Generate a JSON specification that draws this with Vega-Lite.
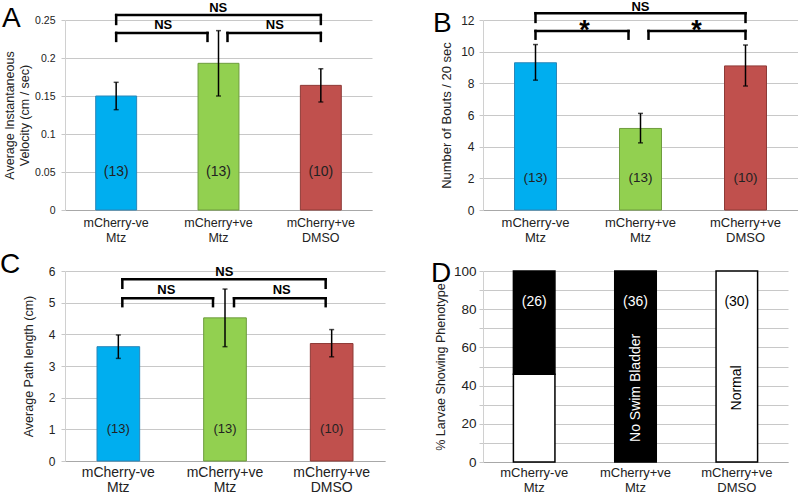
{
"$schema":"https://vega.github.io/schema/vega-lite/v6.json",
"padding":0,
"background":"white",
"config":{
 "font":"Liberation Sans",
 "view":{"stroke":null},
 "title":{"anchor":"start","frame":"group","fontSize":28,"fontWeight":"normal","color":"#000","font":"Liberation Sans"},
 "axis":{"labelColor":"#222","titleColor":"#222","titleFontWeight":"normal","labelFont":"Liberation Sans","titleFont":"Liberation Sans","labelOverlap":false},
 "axisX":{"labelAngle":0,"grid":false,"ticks":false,"domainColor":"#a8a8a8","domainWidth":1,"labelPadding":6,"labelBaseline":"top","labelLineHeight":15},
 "axisY":{"grid":true,"gridColor":"#c8c8c8","domainColor":"#d0d0d0","ticks":true,"tickColor":"#c8c8c8","tickSize":4,"labelPadding":5,"labelOverlap":false,"tickCount":50},
 "text":{"font":"Liberation Sans"}
},
"datasets":{
 "velocity":[
  {"group":"mCherry-ve Mtz","mean":0.150,"lo":0.132,"hi":0.168,"n":"(13)"},
  {"group":"mCherry+ve Mtz","mean":0.193,"lo":0.150,"hi":0.236,"n":"(13)"},
  {"group":"mCherry+ve DMSO","mean":0.164,"lo":0.142,"hi":0.186,"n":"(10)"}
 ],
 "bouts":[
  {"group":"mCherry-ve Mtz","mean":9.3,"lo":8.2,"hi":10.45,"n":"(13)"},
  {"group":"mCherry+ve Mtz","mean":5.15,"lo":4.24,"hi":6.1,"n":"(13)"},
  {"group":"mCherry+ve DMSO","mean":9.1,"lo":7.83,"hi":10.42,"n":"(10)"}
 ],
 "path":[
  {"group":"mCherry-ve Mtz","mean":3.61,"lo":3.24,"hi":3.98,"n":"(13)"},
  {"group":"mCherry+ve Mtz","mean":4.52,"lo":3.61,"hi":5.43,"n":"(13)"},
  {"group":"mCherry+ve DMSO","mean":3.71,"lo":3.29,"hi":4.15,"n":"(10)"}
 ],
 "brA":[
  {"kind":"outer","from":"mCherry-ve Mtz","to":"mCherry+ve DMSO","y":0.2565,"leg":0.2448,"ly":0.2657,"label":"NS"},
  {"kind":"L","from":"mCherry-ve Mtz","to":"mCherry+ve Mtz","y":0.233,"leg":0.2225,"ly":0.2435,"label":"NS"},
  {"kind":"R","from":"mCherry+ve Mtz","to":"mCherry+ve DMSO","y":0.233,"leg":0.2225,"ly":0.2435,"label":"NS"}
 ],
 "brB":[
  {"kind":"outer","from":"mCherry-ve Mtz","to":"mCherry+ve DMSO","y":12.43,"leg":11.88,"ly":12.85,"label":"NS"},
  {"kind":"L","from":"mCherry-ve Mtz","to":"mCherry+ve Mtz","y":11.31,"leg":10.82,"ly":11.3,"label":"*"},
  {"kind":"R","from":"mCherry+ve Mtz","to":"mCherry+ve DMSO","y":11.31,"leg":10.82,"ly":11.3,"label":"*"}
 ],
 "brC":[
  {"kind":"outer","from":"mCherry-ve Mtz","to":"mCherry+ve DMSO","y":5.74,"leg":5.47,"ly":5.97,"label":"NS"},
  {"kind":"L","from":"mCherry-ve Mtz","to":"mCherry+ve Mtz","y":5.14,"leg":4.89,"ly":5.4,"label":"NS"},
  {"kind":"R","from":"mCherry+ve Mtz","to":"mCherry+ve DMSO","y":5.14,"leg":4.89,"ly":5.4,"label":"NS"}
 ],
 "phen":[
  {"group":"mCherry-ve Mtz","phenotype":"Normal","pct":46},
  {"group":"mCherry-ve Mtz","phenotype":"No Swim Bladder","pct":54},
  {"group":"mCherry+ve Mtz","phenotype":"No Swim Bladder","pct":100},
  {"group":"mCherry+ve DMSO","phenotype":"Normal","pct":100}
 ],
 "phenN":[
  {"group":"mCherry-ve Mtz","n":"(26)"},
  {"group":"mCherry+ve Mtz","n":"(36)"},
  {"group":"mCherry+ve DMSO","n":"(30)"}
 ],
 "phenL":[
  {"group":"mCherry+ve Mtz","label":"No Swim Bladder"},
  {"group":"mCherry+ve DMSO","label":"Normal"}
 ]
},
"columns":2,
"spacing":{"row":61,"column":98},
"bounds":"flush",
"resolve":{"scale":{"x":"independent","y":"independent","fill":"independent","stroke":"independent","color":"independent"}},
"concat":[
{
 "title":{"text":"A","offset":-31,"dx":-63},
 "width":307,"height":190,
 "layer":[
  {"data":{"name":"velocity"},"mark":{"type":"bar","strokeWidth":1},
   "encoding":{
    "x":{"field":"group","type":"nominal","title":null,"scale":{"domain":["mCherry-ve Mtz","mCherry+ve Mtz","mCherry+ve DMSO"],"paddingInner":0.6,"paddingOuter":0.3},"axis":{"labelExpr":"split(datum.label, ' ')","labelFontSize":12.5}},
    "y":{"field":"mean","type":"quantitative","scale":{"domain":[0,0.25],"nice":false},"axis":{"title":["Average Instantaneous","Velocity (cm / sec)"],"titleFontSize":12.5,"titleLineHeight":15,"titlePadding":3,"labelFontSize":10.5,"labelPadding":6,"values":[0,0.05,0.1,0.15,0.2,0.25],"tickCount":50,"format":"~g"}},
    "fill":{"field":"group","type":"nominal","scale":{"domain":["mCherry-ve Mtz","mCherry+ve Mtz","mCherry+ve DMSO"],"range":["#00aeef","#92d050","#c0504d"]},"legend":null},
    "stroke":{"field":"group","type":"nominal","scale":{"domain":["mCherry-ve Mtz","mCherry+ve Mtz","mCherry+ve DMSO"],"range":["#2b86b8","#6e9c3e","#8e3a37"]},"legend":null}
   }},
  {"data":{"name":"velocity"},"mark":{"type":"rule","color":"black","strokeWidth":1.5},
   "encoding":{"x":{"field":"group","type":"nominal","title":null},"y":{"field":"lo","type":"quantitative","scale":{"domain":[0,0.25],"nice":false}},"y2":{"field":"hi"}}},
  {"data":{"name":"velocity"},"mark":{"type":"tick","color":"black","thickness":1.5,"size":5},
   "encoding":{"x":{"field":"group","type":"nominal","title":null},"y":{"field":"lo","type":"quantitative","scale":{"domain":[0,0.25],"nice":false}}}},
  {"data":{"name":"velocity"},"mark":{"type":"tick","color":"black","thickness":1.5,"size":5},
   "encoding":{"x":{"field":"group","type":"nominal","title":null},"y":{"field":"hi","type":"quantitative","scale":{"domain":[0,0.25],"nice":false}}}},
  {"data":{"name":"velocity"},"mark":{"type":"text","fontSize":14,"color":"#222","baseline":"middle"},
   "encoding":{"x":{"field":"group","type":"nominal","title":null},"y":{"datum":0.05,"type":"quantitative","scale":{"domain":[0,0.25],"nice":false}},"text":{"field":"n"}}},
  {"data":{"name":"brA"},"transform":[{"filter":"datum.kind === 'outer'"}],"mark":{"type":"rule","color":"black","strokeWidth":2.5,"strokeCap":"square"},
   "encoding":{"x":{"field":"from","type":"nominal","title":null},"x2":{"field":"to"},"y":{"field":"y","type":"quantitative","scale":{"domain":[0,0.25],"nice":false}}}},
  {"data":{"name":"brA"},"transform":[{"filter":"datum.kind === 'L'"}],"mark":{"type":"rule","color":"black","strokeWidth":2.5,"strokeCap":"square","x2Offset":-11},
   "encoding":{"x":{"field":"from","type":"nominal","title":null},"x2":{"field":"to"},"y":{"field":"y","type":"quantitative","scale":{"domain":[0,0.25],"nice":false}}}},
  {"data":{"name":"brA"},"transform":[{"filter":"datum.kind === 'R'"}],"mark":{"type":"rule","color":"black","strokeWidth":2.5,"strokeCap":"square","xOffset":9},
   "encoding":{"x":{"field":"from","type":"nominal","title":null},"x2":{"field":"to"},"y":{"field":"y","type":"quantitative","scale":{"domain":[0,0.25],"nice":false}}}},
  {"data":{"name":"brA"},"transform":[{"filter":"datum.kind !== 'R'"}],"mark":{"type":"rule","color":"black","strokeWidth":2.5,"strokeCap":"square"},
   "encoding":{"x":{"field":"from","type":"nominal","title":null},"y":{"field":"y","type":"quantitative","scale":{"domain":[0,0.25],"nice":false}},"y2":{"field":"leg"}}},
  {"data":{"name":"brA"},"transform":[{"filter":"datum.kind === 'R'"}],"mark":{"type":"rule","color":"black","strokeWidth":2.5,"strokeCap":"square","xOffset":9},
   "encoding":{"x":{"field":"from","type":"nominal","title":null},"y":{"field":"y","type":"quantitative","scale":{"domain":[0,0.25],"nice":false}},"y2":{"field":"leg"}}},
  {"data":{"name":"brA"},"transform":[{"filter":"datum.kind !== 'L'"}],"mark":{"type":"rule","color":"black","strokeWidth":2.5,"strokeCap":"square"},
   "encoding":{"x":{"field":"to","type":"nominal","title":null},"y":{"field":"y","type":"quantitative","scale":{"domain":[0,0.25],"nice":false}},"y2":{"field":"leg"}}},
  {"data":{"name":"brA"},"transform":[{"filter":"datum.kind === 'L'"}],"mark":{"type":"rule","color":"black","strokeWidth":2.5,"strokeCap":"square","xOffset":-11},
   "encoding":{"x":{"field":"to","type":"nominal","title":null},"y":{"field":"y","type":"quantitative","scale":{"domain":[0,0.25],"nice":false}},"y2":{"field":"leg"}}},
  {"data":{"name":"brA"},"transform":[{"filter":"datum.kind === 'outer'"}],"mark":{"type":"text","fontSize":13,"fontWeight":"bold","color":"#000","baseline":"middle","xOffset":102},
   "encoding":{"x":{"field":"from","type":"nominal","title":null},"y":{"field":"ly","type":"quantitative","scale":{"domain":[0,0.25],"nice":false}},"text":{"field":"label"}}},
  {"data":{"name":"brA"},"transform":[{"filter":"datum.kind === 'L'"}],"mark":{"type":"text","fontSize":13,"fontWeight":"bold","color":"#000","baseline":"middle","xOffset":47},
   "encoding":{"x":{"field":"from","type":"nominal","title":null},"y":{"field":"ly","type":"quantitative","scale":{"domain":[0,0.25],"nice":false}},"text":{"field":"label"}}},
  {"data":{"name":"brA"},"transform":[{"filter":"datum.kind === 'R'"}],"mark":{"type":"text","fontSize":13,"fontWeight":"bold","color":"#000","baseline":"middle","xOffset":-46},
   "encoding":{"x":{"field":"to","type":"nominal","title":null},"y":{"field":"ly","type":"quantitative","scale":{"domain":[0,0.25],"nice":false}},"text":{"field":"label"}}}
 ]
},
{
 "title":{"text":"B","offset":-37,"dx":-50},
 "width":315,"height":190,
 "layer":[
  {"data":{"name":"bouts"},"mark":{"type":"bar","strokeWidth":1},
   "encoding":{
    "x":{"field":"group","type":"nominal","title":null,"scale":{"domain":["mCherry-ve Mtz","mCherry+ve Mtz","mCherry+ve DMSO"],"paddingInner":0.6,"paddingOuter":0.3},"axis":{"labelExpr":"split(datum.label, ' ')","labelFontSize":13}},
    "y":{"field":"mean","type":"quantitative","scale":{"domain":[0,12],"nice":false},"axis":{"title":"Number of Bouts / 20 sec","titleFontSize":13,"titlePadding":7,"labelFontSize":12,"labelPadding":5,"values":[0,2,4,6,8,10,12],"tickCount":50,"format":"d"}},
    "fill":{"field":"group","type":"nominal","scale":{"domain":["mCherry-ve Mtz","mCherry+ve Mtz","mCherry+ve DMSO"],"range":["#00aeef","#92d050","#c0504d"]},"legend":null},
    "stroke":{"field":"group","type":"nominal","scale":{"domain":["mCherry-ve Mtz","mCherry+ve Mtz","mCherry+ve DMSO"],"range":["#2b86b8","#6e9c3e","#8e3a37"]},"legend":null}
   }},
  {"data":{"name":"bouts"},"mark":{"type":"rule","color":"black","strokeWidth":1.5},
   "encoding":{"x":{"field":"group","type":"nominal","title":null},"y":{"field":"lo","type":"quantitative","scale":{"domain":[0,12],"nice":false}},"y2":{"field":"hi"}}},
  {"data":{"name":"bouts"},"mark":{"type":"tick","color":"black","thickness":1.5,"size":5},
   "encoding":{"x":{"field":"group","type":"nominal","title":null},"y":{"field":"lo","type":"quantitative","scale":{"domain":[0,12],"nice":false}}}},
  {"data":{"name":"bouts"},"mark":{"type":"tick","color":"black","thickness":1.5,"size":5},
   "encoding":{"x":{"field":"group","type":"nominal","title":null},"y":{"field":"hi","type":"quantitative","scale":{"domain":[0,12],"nice":false}}}},
  {"data":{"name":"bouts"},"mark":{"type":"text","fontSize":13.5,"color":"#222","baseline":"middle"},
   "encoding":{"x":{"field":"group","type":"nominal","title":null},"y":{"datum":2,"type":"quantitative","scale":{"domain":[0,12],"nice":false}},"text":{"field":"n"}}},
  {"data":{"name":"brB"},"transform":[{"filter":"datum.kind === 'outer'"}],"mark":{"type":"rule","color":"black","strokeWidth":2.5,"strokeCap":"square"},
   "encoding":{"x":{"field":"from","type":"nominal","title":null},"x2":{"field":"to"},"y":{"field":"y","type":"quantitative","scale":{"domain":[0,12],"nice":false}}}},
  {"data":{"name":"brB"},"transform":[{"filter":"datum.kind === 'L'"}],"mark":{"type":"rule","color":"black","strokeWidth":2.5,"strokeCap":"square","x2Offset":-12},
   "encoding":{"x":{"field":"from","type":"nominal","title":null},"x2":{"field":"to"},"y":{"field":"y","type":"quantitative","scale":{"domain":[0,12],"nice":false}}}},
  {"data":{"name":"brB"},"transform":[{"filter":"datum.kind === 'R'"}],"mark":{"type":"rule","color":"black","strokeWidth":2.5,"strokeCap":"square","xOffset":8},
   "encoding":{"x":{"field":"from","type":"nominal","title":null},"x2":{"field":"to"},"y":{"field":"y","type":"quantitative","scale":{"domain":[0,12],"nice":false}}}},
  {"data":{"name":"brB"},"transform":[{"filter":"datum.kind !== 'R'"}],"mark":{"type":"rule","color":"black","strokeWidth":2.5,"strokeCap":"square"},
   "encoding":{"x":{"field":"from","type":"nominal","title":null},"y":{"field":"y","type":"quantitative","scale":{"domain":[0,12],"nice":false}},"y2":{"field":"leg"}}},
  {"data":{"name":"brB"},"transform":[{"filter":"datum.kind === 'R'"}],"mark":{"type":"rule","color":"black","strokeWidth":2.5,"strokeCap":"square","xOffset":8},
   "encoding":{"x":{"field":"from","type":"nominal","title":null},"y":{"field":"y","type":"quantitative","scale":{"domain":[0,12],"nice":false}},"y2":{"field":"leg"}}},
  {"data":{"name":"brB"},"transform":[{"filter":"datum.kind !== 'L'"}],"mark":{"type":"rule","color":"black","strokeWidth":2.5,"strokeCap":"square"},
   "encoding":{"x":{"field":"to","type":"nominal","title":null},"y":{"field":"y","type":"quantitative","scale":{"domain":[0,12],"nice":false}},"y2":{"field":"leg"}}},
  {"data":{"name":"brB"},"transform":[{"filter":"datum.kind === 'L'"}],"mark":{"type":"rule","color":"black","strokeWidth":2.5,"strokeCap":"square","xOffset":-12},
   "encoding":{"x":{"field":"to","type":"nominal","title":null},"y":{"field":"y","type":"quantitative","scale":{"domain":[0,12],"nice":false}},"y2":{"field":"leg"}}},
  {"data":{"name":"brB"},"transform":[{"filter":"datum.kind === 'outer'"}],"mark":{"type":"text","fontSize":13,"fontWeight":"bold","color":"#000","baseline":"middle","xOffset":105},
   "encoding":{"x":{"field":"from","type":"nominal","title":null},"y":{"field":"ly","type":"quantitative","scale":{"domain":[0,12],"nice":false}},"text":{"field":"label"}}},
  {"data":{"name":"brB"},"transform":[{"filter":"datum.kind === 'L'"}],"mark":{"type":"text","fontSize":27,"fontWeight":"bold","color":"#000","baseline":"middle","xOffset":49},
   "encoding":{"x":{"field":"from","type":"nominal","title":null},"y":{"field":"ly","type":"quantitative","scale":{"domain":[0,12],"nice":false}},"text":{"field":"label"}}},
  {"data":{"name":"brB"},"transform":[{"filter":"datum.kind === 'R'"}],"mark":{"type":"text","fontSize":27,"fontWeight":"bold","color":"#000","baseline":"middle","xOffset":-49},
   "encoding":{"x":{"field":"to","type":"nominal","title":null},"y":{"field":"ly","type":"quantitative","scale":{"domain":[0,12],"nice":false}},"text":{"field":"label"}}}
 ]
},
{
 "title":{"text":"C","offset":-14,"dx":-65},
 "width":320,"height":190,
 "layer":[
  {"data":{"name":"path"},"mark":{"type":"bar","strokeWidth":1},
   "encoding":{
    "x":{"field":"group","type":"nominal","title":null,"scale":{"domain":["mCherry-ve Mtz","mCherry+ve Mtz","mCherry+ve DMSO"],"paddingInner":0.6,"paddingOuter":0.3},"axis":{"labelExpr":"split(datum.label, ' ')","labelFontSize":14,"labelLineHeight":15,"labelPadding":4}},
    "y":{"field":"mean","type":"quantitative","scale":{"domain":[0,6],"nice":false},"axis":{"title":"Average Path length (cm)","titleFontSize":12.5,"titlePadding":13,"labelFontSize":12,"labelPadding":6,"values":[0,1,2,3,4,5,6],"tickCount":50,"format":"d"}},
    "fill":{"field":"group","type":"nominal","scale":{"domain":["mCherry-ve Mtz","mCherry+ve Mtz","mCherry+ve DMSO"],"range":["#00aeef","#92d050","#c0504d"]},"legend":null},
    "stroke":{"field":"group","type":"nominal","scale":{"domain":["mCherry-ve Mtz","mCherry+ve Mtz","mCherry+ve DMSO"],"range":["#2b86b8","#6e9c3e","#8e3a37"]},"legend":null}
   }},
  {"data":{"name":"path"},"mark":{"type":"rule","color":"black","strokeWidth":1.5},
   "encoding":{"x":{"field":"group","type":"nominal","title":null},"y":{"field":"lo","type":"quantitative","scale":{"domain":[0,6],"nice":false}},"y2":{"field":"hi"}}},
  {"data":{"name":"path"},"mark":{"type":"tick","color":"black","thickness":1.5,"size":5},
   "encoding":{"x":{"field":"group","type":"nominal","title":null},"y":{"field":"lo","type":"quantitative","scale":{"domain":[0,6],"nice":false}}}},
  {"data":{"name":"path"},"mark":{"type":"tick","color":"black","thickness":1.5,"size":5},
   "encoding":{"x":{"field":"group","type":"nominal","title":null},"y":{"field":"hi","type":"quantitative","scale":{"domain":[0,6],"nice":false}}}},
  {"data":{"name":"path"},"mark":{"type":"text","fontSize":13,"color":"#222","baseline":"middle"},
   "encoding":{"x":{"field":"group","type":"nominal","title":null},"y":{"datum":1,"type":"quantitative","scale":{"domain":[0,6],"nice":false}},"text":{"field":"n"}}},
  {"data":{"name":"brC"},"transform":[{"filter":"datum.kind === 'outer'"}],"mark":{"type":"rule","color":"black","strokeWidth":2.5,"strokeCap":"square","xOffset":4,"x2Offset":-6},
   "encoding":{"x":{"field":"from","type":"nominal","title":null},"x2":{"field":"to"},"y":{"field":"y","type":"quantitative","scale":{"domain":[0,6],"nice":false}}}},
  {"data":{"name":"brC"},"transform":[{"filter":"datum.kind === 'L'"}],"mark":{"type":"rule","color":"black","strokeWidth":2.5,"strokeCap":"square","xOffset":4,"x2Offset":-12},
   "encoding":{"x":{"field":"from","type":"nominal","title":null},"x2":{"field":"to"},"y":{"field":"y","type":"quantitative","scale":{"domain":[0,6],"nice":false}}}},
  {"data":{"name":"brC"},"transform":[{"filter":"datum.kind === 'R'"}],"mark":{"type":"rule","color":"black","strokeWidth":2.5,"strokeCap":"square","xOffset":9,"x2Offset":-6},
   "encoding":{"x":{"field":"from","type":"nominal","title":null},"x2":{"field":"to"},"y":{"field":"y","type":"quantitative","scale":{"domain":[0,6],"nice":false}}}},
  {"data":{"name":"brC"},"transform":[{"filter":"datum.kind !== 'R'"}],"mark":{"type":"rule","color":"black","strokeWidth":2.5,"strokeCap":"square","xOffset":4},
   "encoding":{"x":{"field":"from","type":"nominal","title":null},"y":{"field":"y","type":"quantitative","scale":{"domain":[0,6],"nice":false}},"y2":{"field":"leg"}}},
  {"data":{"name":"brC"},"transform":[{"filter":"datum.kind === 'R'"}],"mark":{"type":"rule","color":"black","strokeWidth":2.5,"strokeCap":"square","xOffset":9},
   "encoding":{"x":{"field":"from","type":"nominal","title":null},"y":{"field":"y","type":"quantitative","scale":{"domain":[0,6],"nice":false}},"y2":{"field":"leg"}}},
  {"data":{"name":"brC"},"transform":[{"filter":"datum.kind !== 'L'"}],"mark":{"type":"rule","color":"black","strokeWidth":2.5,"strokeCap":"square","xOffset":-6},
   "encoding":{"x":{"field":"to","type":"nominal","title":null},"y":{"field":"y","type":"quantitative","scale":{"domain":[0,6],"nice":false}},"y2":{"field":"leg"}}},
  {"data":{"name":"brC"},"transform":[{"filter":"datum.kind === 'L'"}],"mark":{"type":"rule","color":"black","strokeWidth":2.5,"strokeCap":"square","xOffset":-12},
   "encoding":{"x":{"field":"to","type":"nominal","title":null},"y":{"field":"y","type":"quantitative","scale":{"domain":[0,6],"nice":false}},"y2":{"field":"leg"}}},
  {"data":{"name":"brC"},"transform":[{"filter":"datum.kind === 'outer'"}],"mark":{"type":"text","fontSize":13,"fontWeight":"bold","color":"#000","baseline":"middle","xOffset":106},
   "encoding":{"x":{"field":"from","type":"nominal","title":null},"y":{"field":"ly","type":"quantitative","scale":{"domain":[0,6],"nice":false}},"text":{"field":"label"}}},
  {"data":{"name":"brC"},"transform":[{"filter":"datum.kind === 'L'"}],"mark":{"type":"text","fontSize":13,"fontWeight":"bold","color":"#000","baseline":"middle","xOffset":48},
   "encoding":{"x":{"field":"from","type":"nominal","title":null},"y":{"field":"ly","type":"quantitative","scale":{"domain":[0,6],"nice":false}},"text":{"field":"label"}}},
  {"data":{"name":"brC"},"transform":[{"filter":"datum.kind === 'R'"}],"mark":{"type":"text","fontSize":13,"fontWeight":"bold","color":"#000","baseline":"middle","xOffset":-50},
   "encoding":{"x":{"field":"to","type":"nominal","title":null},"y":{"field":"ly","type":"quantitative","scale":{"domain":[0,6],"nice":false}},"text":{"field":"label"}}}
 ]
},
{
 "title":{"text":"D","offset":-24,"dx":-52},
 "width":305,"height":191,
 "layer":[
  {"data":{"name":"phen"},"mark":{"type":"bar","stroke":"black","strokeWidth":1.5},
   "encoding":{
    "x":{"field":"group","type":"nominal","title":null,"scale":{"domain":["mCherry-ve Mtz","mCherry+ve Mtz","mCherry+ve DMSO"],"paddingInner":0.59,"paddingOuter":0.3},"axis":{"labelExpr":"split(datum.label, ' ')","labelFontSize":13,"labelPadding":4}},
    "y":{"field":"pct","type":"quantitative","stack":"zero","scale":{"domain":[0,100],"nice":false},"axis":{"title":"% Larvae Showing Phenotype","titleFontSize":12.5,"titlePadding":6,"labelFontSize":13.5,"labelPadding":3,"values":[0,10,20,30,40,50,60,70,80,90,100],"tickCount":50,"labelExpr":"datum.value % 20 === 0 ? format(datum.value, 'd') : ''"}},
    "fill":{"field":"phenotype","type":"nominal","scale":{"domain":["Normal","No Swim Bladder"],"range":["#ffffff","#000000"]},"legend":null},
    "order":{"field":"phenotype","type":"nominal","sort":"descending"}
   }},
  {"data":{"name":"phenN"},"mark":{"type":"text","fontSize":14,"baseline":"middle"},
   "encoding":{"x":{"field":"group","type":"nominal","title":null},"y":{"datum":84,"type":"quantitative","scale":{"domain":[0,100],"nice":false}},"text":{"field":"n"},
    "color":{"condition":{"test":"datum.group === 'mCherry+ve DMSO'","value":"#000000"},"value":"#ffffff"}}},
  {"data":{"name":"phenL"},"mark":{"type":"text","fontSize":14,"baseline":"middle","align":"center","angle":270},
   "encoding":{"x":{"field":"group","type":"nominal","title":null},"y":{"datum":38.8,"type":"quantitative","scale":{"domain":[0,100],"nice":false}},"text":{"field":"label"},
    "color":{"condition":{"test":"datum.group === 'mCherry+ve DMSO'","value":"#000000"},"value":"#ffffff"}}}
 ]
}
]
}
